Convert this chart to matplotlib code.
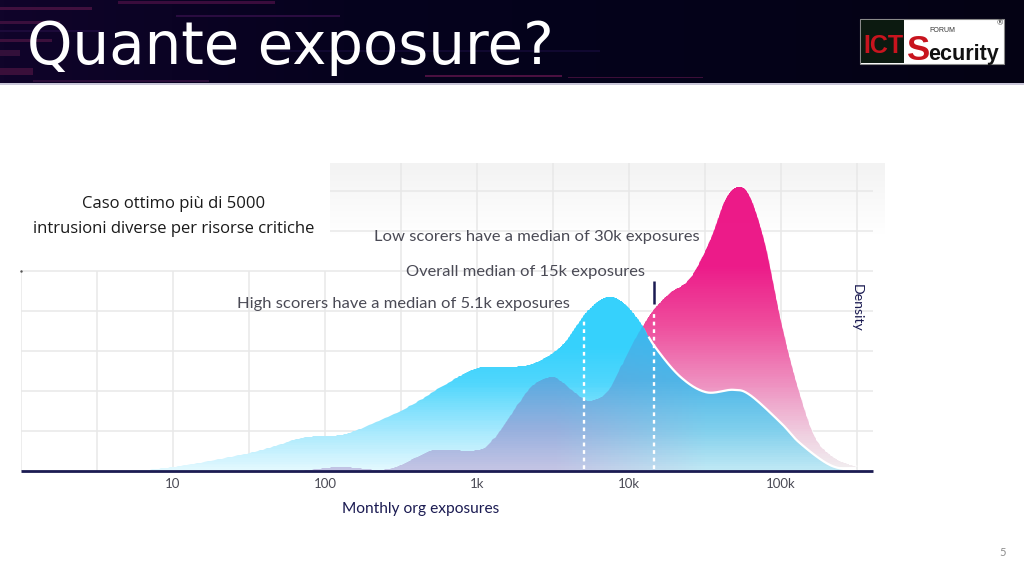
import numpy as np
import matplotlib
matplotlib.use('Agg')
import matplotlib.pyplot as plt
from matplotlib.colors import LinearSegmentedColormap, to_rgb
from matplotlib.patches import Rectangle

# values
high_x = [5, 10, 32, 69, 100, 146, 316, 664, 1000, 1530, 2230, 3160, 3950, 5060, 6440, 7730, 9400, 11800, 14800,
          21700, 32100, 48300, 62500, 100000, 133000, 210000, 316000]
high_y = [0, 0.1, 0.45, 0.82, 0.875, 0.96, 1.5, 2.23, 2.57, 2.6, 2.66, 2.95, 3.3, 3.9, 4.27, 4.35, 4.17, 3.73, 3.11,
          2.36, 1.97, 2.03, 1.9, 1.2, 0.7, 0.15, 0]
low_x = [69, 126, 230, 316, 491, 664, 1000, 1220, 1650, 2230, 3020, 3620, 4760, 5790, 7500, 10000, 12700, 14800,
         18600, 25200, 34100, 42900, 52100, 62500, 78500, 100000, 127000, 167000, 226000, 316000]
low_y = [0, 0.1, 0.03, 0.15, 0.5, 0.52, 0.52, 0.7, 1.36, 2.07, 2.35, 2.23, 1.86, 1.76, 2.07, 3.02, 3.7, 4.07,
         4.45, 4.82, 5.77, 6.78, 7.1, 6.86, 5.7, 3.77, 2.2, 0.86, 0.32, 0.1]
median_high = 5050
median_all = 14500
x_ticks = [10, 100, 1000, 10000, 100000]
x_labels = ['10', '100', '1k', '10k', '100k']
x_grid = [3.16, 10, 31.6, 100, 316, 1000, 3160, 10000, 31600, 100000, 316000]
y_grid = [1, 2, 3, 4, 5, 6, 7]

W, H = 1024, 577
NAVY = '#1b1b52'
GRID = '#e8e8e8'
TXT = '#4a4a55'


def smooth(x, y, n=24):
    # catmull-rom through the read points, in log x
    p = np.column_stack([np.log10(x), y])
    p = np.vstack([2 * p[0] - p[1], p, 2 * p[-1] - p[-2]])
    out = []
    for i in range(1, len(p) - 2):
        t = np.linspace(0, 1, n, endpoint=False)[:, None]
        a, b, c, d = p[i - 1], p[i], p[i + 1], p[i + 2]
        out.append(0.5 * (2 * b + (c - a) * t + (2 * a - 5 * b + 4 * c - d) * t ** 2 + (3 * b - a - 3 * c + d) * t ** 3))
    out.append(p[-2][None, :])
    out = np.vstack(out)
    return 10 ** out[:, 0], np.clip(out[:, 1], 0, None)


def px_x(px):
    return 10 ** (1 + (px - 173) / 152)


def gradient(ax, px, py, cmap, zorder):
    poly = ax.fill(px, py, facecolor='none', edgecolor='none', zorder=zorder)[0]
    yy = np.linspace(0, 7.3, 160)
    mesh = ax.pcolormesh([1, 1e6], yy, yy[:-1, None] / 7.3, cmap=cmap, vmin=0, vmax=1, shading='flat',
                         zorder=zorder, rasterized=True)
    mesh.set_clip_path(poly)
    return mesh


fig = plt.figure(figsize=(W / 100, H / 100), dpi=100, facecolor='white')
plt.rcParams['font.family'] = ['Lato', 'DejaVu Sans']

# page layer, in pixels
page = fig.add_axes([0, 0, 1, 1])
band = np.linspace(0, 1, 256)[None, :]
page.imshow(band, extent=[0, W, 83, 0], aspect='auto', zorder=1,
            cmap=LinearSegmentedColormap.from_list('hdr', ['#10042a', '#06021e', '#04021a', '#040214']))
streaks = [(118, 1, 157, 3, '#3a0c3c'), (0, 7, 92, 3, '#40103e'), (176, 15, 164, 2, '#2a0c40'),
           (0, 21, 60, 3, '#3a0f3c'), (0, 39, 52, 3, '#3c103c'), (0, 50, 20, 6, '#33103a'),
           (0, 68, 33, 7, '#3a0f3a'), (33, 80, 176, 2, '#2c0e3a'), (425, 75, 137, 2, '#4a1040'),
           (568, 77, 135, 1, '#3c0e38'), (280, 50, 320, 2, '#100830'), (0, 30, 100, 2, '#1c0a3a')]
for sx, sy, sw, sh, sc in streaks:
    page.add_patch(Rectangle((sx, sy), sw, sh, facecolor=sc, edgecolor='none', zorder=2))
page.add_patch(Rectangle((0, 83), W, 1.5, facecolor='#c9c6d8', edgecolor='none', zorder=2))
page.text(27, 64, 'Quante exposure?', color='white', fontsize=41.6, family='DejaVu Sans', va='baseline', ha='left', zorder=3)

# logo
page.add_patch(Rectangle((860, 19), 144, 44.5, facecolor='white', edgecolor='#8a8a8a', linewidth=0.8, zorder=3))
page.add_patch(Rectangle((861, 20), 42.5, 43, facecolor='#0c1a10', edgecolor='none', zorder=4))
logo_font = 'Liberation Sans'
page.text(883, 53, 'ICT', color='#c8141e', fontsize=18, fontweight='bold', family=logo_font, ha='center', va='baseline', zorder=5)
page.text(907, 60, 'S', color='#c8141e', fontsize=25, fontweight='bold', family=logo_font, ha='left', va='baseline', zorder=5)
page.text(928, 60, 'ecurity', color='#111111', fontsize=15.5, fontweight='bold', family=logo_font, ha='left', va='baseline', zorder=5)
page.text(929, 31, 'FORUM', color='#333333', fontsize=5, family=logo_font, ha='left', va='center', zorder=5)
page.text(1000, 23, '®', color='#333333', fontsize=5.5, ha='center', va='center', zorder=5)

# fading band behind the top of the chart
fade = np.linspace(0, 1, 64)[:, None]
page.imshow(fade, extent=[330, 885, 235, 163], aspect='auto', origin='upper', zorder=1, vmin=0, vmax=1,
            cmap=LinearSegmentedColormap.from_list('fade', ['#f3f3f3', '#ffffff']))
page.set_xlim(0, W)
page.set_ylim(H, 0)
page.axis('off')

page.text(174, 204, 'Caso ottimo più di 5000', color='#1a1a1a', fontsize=12, family='Open Sans', ha='center', va='center', zorder=5)
page.text(174, 229, 'intrusioni diverse per risorse critiche', color='#1a1a1a', fontsize=12, family='Open Sans', ha='center', va='center', zorder=5)
page.text(1003, 553, '5', color='#8c8c8c', fontsize=8, ha='center', va='center', zorder=5)

# chart, log10(x)=0 at px 21, 152 px a decade, 40 px a density unit, baseline at px 471
ax = fig.add_axes([21 / W, (H - 471) / H, 852 / W, 308 / H], facecolor='none')
ax.set_xscale('log')
ax.set_xlim(1, 10 ** (852 / 152))
ax.set_ylim(0, 7.7)
for s in ax.spines.values():
    s.set_visible(False)

ax.hlines(y_grid[:5], 1, 316000 * 1.3, color=GRID, lw=1.1, zorder=1)
ax.hlines(y_grid[5:], px_x(330), 316000 * 1.3, color=GRID, lw=1.1, zorder=1)
ax.vlines(1, 0, 5, color=GRID, lw=1.1, zorder=1)
for gx in x_grid:
    top = 7.7 if gx >= 316 else 5
    ax.vlines(gx, 0, top, color=GRID, lw=1.1, zorder=1)

hx, hy = smooth(high_x, high_y)
lx, ly = smooth(low_x, low_y)

pink = LinearSegmentedColormap.from_list('pink', [(0, '#f1eef0'), (0.12, '#efcfe0'), (0.3, '#ee8fbf'),
                                                  (0.5, '#ee4c9c'), (0.7, '#ec1b89'), (1, '#ec1a88')])
blue = LinearSegmentedColormap.from_list('blue', [(0, '#e2f8fe'), (0.14, '#a3e8fd'), (0.3, '#4fd6fc'),
                                                  (0.42, '#36d1fc'), (1, '#36d1fc')])
gradient(ax, lx, ly, pink, 2)
gradient(ax, hx, hy, blue, 3)

# where the two curves overlap the colour also drifts from left to right
grid = np.logspace(1.5, 5.6, 600)
over = np.minimum(np.interp(grid, hx, hy), np.interp(grid, lx, ly))
over_poly = ax.fill(np.r_[grid[0], grid, grid[-1]], np.r_[0, over, 0], facecolor='none', edgecolor='none', zorder=4)[0]
yy = np.linspace(0, 4.5, 80)
stops_y = [0, 0.22, 0.5, 0.8, 1]
stops_left = ['#c4c4e4', '#97b0de', '#5aabe0', '#3cb8ee', '#36bdf2']
stops_right = ['#bfe8f4', '#80cfec', '#4cb6e8', '#36b9f0', '#36bdf2']
fine = np.linspace(3.5, 4.5, 40)
fine = np.r_[1.5, fine, 5.6]
rgb = np.zeros((len(yy) - 1, len(fine) - 1, 3))
for k in range(3):
    left_col = np.interp(yy[:-1] / 4.5, stops_y, [to_rgb(v)[k] for v in stops_left])
    right_col = np.interp(yy[:-1] / 4.5, stops_y, [to_rgb(v)[k] for v in stops_right])
    w = np.clip((fine[:-1] - 3.5), 0, 1)
    rgb[:, :, k] = np.outer(left_col, 1 - w) + np.outer(right_col, w)
mesh = ax.pcolormesh(10 ** fine, yy, rgb, shading='flat', zorder=4, rasterized=True)
mesh.set_clip_path(over_poly)

# white edges
right = hx >= 13500
ax.plot(hx[right], hy[right], color='white', lw=1.6, zorder=5)
ax.plot(lx[lx > 14000], ly[lx > 14000] + 0.02, color='white', lw=0.7, alpha=0.7, zorder=5)

# medians
ax.vlines(median_high, 0.05, np.interp(median_high, hx, hy) - 0.1, color='white', lw=1.7, linestyles=(0, (1.6, 1.6)), zorder=6)
ax.vlines(median_all, 0.05, np.interp(median_all, lx, ly) - 0.05, color='white', lw=1.7, linestyles=(0, (1.6, 1.6)), zorder=6)
ax.vlines(median_all, 4.17, 4.75, color=NAVY, lw=1.8, zorder=6)

ax.plot([1, 10 ** (852 / 152)], [0, 0], color=NAVY, lw=2, zorder=7, clip_on=False, solid_capstyle='butt')
ax.plot([1], [5], marker='.', ms=1.5, color='#555555', clip_on=False, zorder=7)

ax.set_xticks(x_ticks)
ax.set_xticklabels(x_labels, fontsize=9.5, color=TXT)
ax.minorticks_off()
ax.tick_params(axis='x', length=0, pad=5)
ax.set_yticks([])

ax.text(px_x(237), 4.18, 'High scorers have a median of 5.1k exposures', color=TXT, fontsize=11.85, va='center', ha='left', zorder=8)
ax.text(px_x(406), 4.98, 'Overall median of 15k exposures', color=TXT, fontsize=11.85, va='center', ha='left', zorder=8)
ax.text(px_x(374), 5.85, 'Low scorers have a median of 30k exposures', color=TXT, fontsize=11.85, va='center', ha='left', zorder=8)
ax.text(px_x(857), 4.08, 'Density', color=NAVY, fontsize=10.2, rotation=-90, va='center', ha='center', zorder=8)
ax.text(px_x(420.5), -0.95, 'Monthly org exposures', color=NAVY, fontsize=11.2, va='center', ha='center', zorder=8)

fig.savefig('out.png', dpi=100)
